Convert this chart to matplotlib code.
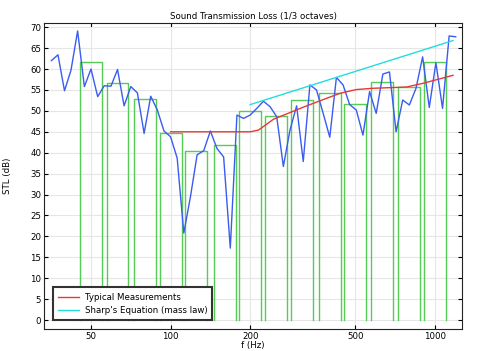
import matplotlib
matplotlib.use("Agg")
import matplotlib.pyplot as plt
from matplotlib.ticker import FixedLocator, FixedFormatter, NullLocator

# 1/12-octave measured STL
freq = [35.4, 37.5, 39.7, 42.0, 44.5, 47.2, 50.0, 53.0, 56.1, 59.5,
        63.0, 66.7, 70.7, 74.9, 79.4, 84.1, 89.1, 94.4, 100.0, 105.9,
        112.2, 118.9, 126.0, 133.5, 141.4, 149.8, 158.7, 168.2, 178.2, 188.8,
        200.0, 211.9, 224.5, 237.8, 252.0, 267.0, 282.8, 299.7, 317.5, 336.4,
        356.4, 377.6, 400.0, 423.8, 449.0, 475.7, 504.0, 534.0, 565.7, 599.3,
        635.0, 672.7, 712.7, 755.0, 800.0, 847.6, 898.0, 951.4, 1008.0, 1068.0,
        1131.0, 1198.0]
stl = [62.0, 63.4, 54.8, 59.7, 69.1, 55.8, 60.0, 53.4, 56.0, 55.9,
       59.9, 51.2, 55.8, 54.3, 44.6, 53.5, 50.2, 45.2, 43.8, 38.7,
       20.8, 29.5, 39.5, 40.5, 45.2, 41.0, 39.0, 17.2, 49.0, 48.2,
       49.0, 50.6, 52.3, 51.0, 48.6, 36.7, 45.4, 51.2, 37.9, 56.2,
       55.0, 49.4, 43.7, 58.0, 56.2, 51.5, 50.2, 44.2, 54.6, 49.4,
       58.8, 59.3, 45.0, 52.6, 51.4, 55.4, 62.9, 50.8, 61.5, 50.6,
       67.9, 67.7]

# 1/3-octave bands
band_freq = [50, 63, 80, 100, 125, 160, 200, 250, 315, 400, 500, 630, 800, 1000]
band_stl = [61.7, 56.7, 52.8, 44.8, 40.3, 41.9, 50.0, 48.7, 52.7, 54.2,
            51.6, 56.8, 55.6, 61.7]

# Typical measurements
typ_freq = [100, 200, 215, 245, 327, 437, 505, 584, 781, 903, 1170]
typ_stl = [45.0, 45.0, 45.4, 48.0, 51.2, 54.2, 55.1, 55.4, 55.7, 56.6, 58.5]

# Sharp's equation (mass law)
sharp_freq = [200, 1170]
sharp_stl = [51.5, 66.8]

fig = plt.figure(figsize=(4.78, 3.51), dpi=100)
ax = fig.add_axes([0.092, 0.063, 0.8745, 0.8715])
ax.set_xscale("log")

fs = 6.2
half = 1.1
for f, v in zip(band_freq, band_stl):
    ax.plot([f / half, f / half, f * half, f * half], [0, v, v, 0],
            color="#55cc55", linewidth=1.0, zorder=2)

ax.plot(freq, stl, color="#3a5cf0", linewidth=1.0, zorder=3)
ax.plot(typ_freq, typ_stl, color="#e53935", linewidth=1.0, zorder=4,
        label="Typical Measurements")
ax.plot(sharp_freq, sharp_stl, color="#22dddd", linewidth=1.0, zorder=4,
        label="Sharp's Equation (mass law)")

ax.set_xlim(33.2, 1265)
ax.set_ylim(-2.1, 71)
xt = [50, 100, 200, 500, 1000]
ax.xaxis.set_major_locator(FixedLocator(xt))
ax.xaxis.set_major_formatter(FixedFormatter([str(v) for v in xt]))
ax.xaxis.set_minor_locator(NullLocator())
ax.set_yticks(range(0, 71, 5))
ax.tick_params(direction="in", top=True, right=True, labelsize=fs,
               length=3, width=0.8, pad=2)
ax.grid(True, color="#e6e6e6", linewidth=0.8, zorder=0)
ax.set_axisbelow(True)
for s in ax.spines.values():
    s.set_linewidth(0.8)
    s.set_color("#222222")

ax.set_title("Sound Transmission Loss (1/3 octaves)", fontsize=fs, pad=3)
ax.set_xlabel("f (Hz)", fontsize=fs, labelpad=0)
ax.set_ylabel("STL (dB)", fontsize=fs, labelpad=13)

leg = ax.legend(loc="lower left", bbox_to_anchor=(0.021, 0.029), fontsize=fs,
                frameon=True, fancybox=False, framealpha=1, edgecolor="#333333",
                handlelength=2.4, borderpad=0.6, labelspacing=0.5,
                borderaxespad=0, handletextpad=0.7)
leg.get_frame().set_linewidth(1.5)
leg.set_zorder(10)

fig.savefig("out.png", dpi=100)
